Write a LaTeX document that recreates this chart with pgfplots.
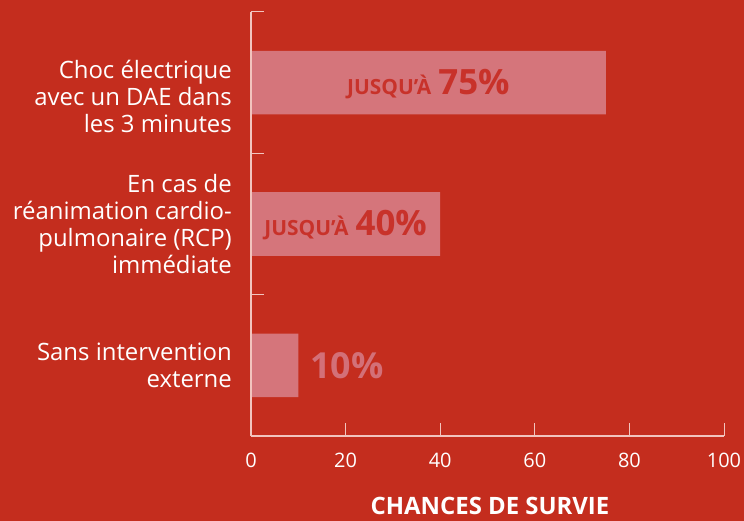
\documentclass[border=0pt]{standalone}
\usepackage{fontspec}
\setmainfont{Open Sans}
\usepackage{pgfplots}
\pgfplotsset{compat=1.18}
\definecolor{bg}{HTML}{C42D1E}
\definecolor{barc}{HTML}{D5757B}
\definecolor{intext}{HTML}{C8322A}
\definecolor{pinklbl}{HTML}{D37078}
\definecolor{axc}{HTML}{F2C4BE}
\newcommand{\lblin}[1]{{\fontsize{21}{25}\selectfont JUSQU’À}\hspace{7bp}{\fontsize{35}{40}\selectfont #1\%}}
\begin{document}
\begin{tikzpicture}
\useasboundingbox (0,0) rectangle (744bp,521bp);
\fill[bg] (0,0) rectangle (744bp,521bp);
\begin{axis}[
  at={(251bp,85bp)}, anchor=south west,
  scale only axis, width=473bp, height=424bp,
  xmin=0, xmax=100, ymin=-0.5, ymax=2.5,
  axis x line=bottom, axis y line=left,
  axis line style={-, draw=axc, line width=1.2bp},
  axis on top,
  clip=false,
  tick align=inside, major tick length=13bp,
  tick style={draw=axc, line width=1bp},
  xtick={0,20,40,60,80,100}, xticklabels={0,20,40,60,80,100},
  xticklabel style={anchor=base, yshift=-31bp, inner sep=0pt, text=white, font=\fontsize{20}{24}\selectfont},
  ytick={-0.5,0.5,1.5,2.5}, yticklabels={},
  extra y ticks={0,1,2},
  extra y tick labels={{Sans intervention\\externe},{En cas de\\réanimation cardio-\\pulmonaire (RCP)\\immédiate},{\rule{0pt}{46bp}Choc électrique\\avec un DAE dans\\les 3 minutes}},
  extra y tick style={tick style={draw=none}},
  yticklabel style={anchor=east, xshift=-19bp, align=right, inner sep=0pt, text=white, font=\fontsize{24}{27}\selectfont},
  xlabel={CHANCES DE SURVIE},
  xlabel style={at={(axis description cs:0.5,0)}, anchor=base, yshift=-78bp, xshift=2.5bp, font=\bfseries\fontsize{24}{28}\selectfont, text=white, inner sep=0pt},
]
\addplot[xbar, bar width=0.45, fill=barc, draw=none] coordinates {(10,0) (40,1) (75,2)};
\addplot[only marks, mark=none, point meta=explicit symbolic, nodes near coords,
  every node near coord/.append style={anchor=base, yshift=-12bp, text=intext, font=\bfseries, inner sep=0pt}]
  coordinates {(37.5,2) [\lblin{75}] (20,1) [\lblin{40}]};
\addplot[only marks, mark=none, point meta=explicit symbolic, nodes near coords,
  every node near coord/.append style={anchor=base west, xshift=12bp, yshift=-13bp, text=pinklbl, font=\bfseries, inner sep=0pt}]
  coordinates {(10,0) [{\fontsize{36}{40}\selectfont 10\%}]};
\end{axis}
\end{tikzpicture}
\end{document}
